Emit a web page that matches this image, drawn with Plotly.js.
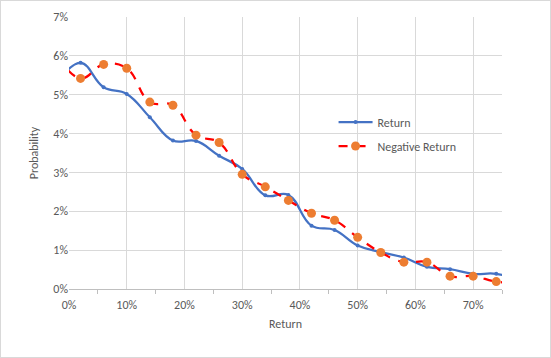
<!DOCTYPE html>
<html>
<head>
<meta charset="utf-8">
<script src="https://cdn.plot.ly/plotly-3.0.1.min.js"></script>
<style>
html,body{margin:0;padding:0;background:#fff;}
#chart{width:549px;height:356px;border:1px solid #d9d9d9;}
</style>
</head>
<body>
<div id="chart"></div>
<script>
// Return levels (x), first point at -2% lies outside the visible axis range
const returns = [-0.02, 0.02, 0.06, 0.10, 0.14, 0.18, 0.22, 0.26, 0.30, 0.34, 0.38, 0.42, 0.46, 0.50, 0.54, 0.58, 0.62, 0.66, 0.70, 0.74, 0.78];
const returnProb = [0.0530, 0.0582, 0.0519, 0.0502, 0.0442, 0.0382, 0.0381, 0.0343, 0.0309, 0.0241, 0.0242, 0.0163, 0.0152, 0.0112, 0.0095, 0.0081, 0.0057, 0.0051, 0.0039, 0.0039, 0.0022];
const negReturnProb = [0.0600, 0.0542, 0.0578, 0.0568, 0.0481, 0.0473, 0.0396, 0.0377, 0.0295, 0.0263, 0.0228, 0.0195, 0.0177, 0.0133, 0.0094, 0.0069, 0.0069, 0.0033, 0.0033, 0.0019, 0.0016];
const seriesNames = ["Return", "Negative Return"];

const FONT = "Carlito, Lato, 'Liberation Sans', sans-serif";
const GREY = "#595959";

const traces = [
  {
    x: returns, y: returnProb, name: seriesNames[0], type: "scatter", mode: "lines+markers",
    line: {color: "#4472C4", width: 2.25, shape: "spline", smoothing: 1.2},
    marker: {color: "#4472C4", size: 4, symbol: "circle"},
    legend: "legend", cliponaxis: true
  },
  {
    x: returns, y: negReturnProb, name: seriesNames[1], type: "scatter", mode: "lines+markers",
    line: {color: "#FF0000", width: 2.25, dash: "dash", shape: "spline", smoothing: 1.2},
    marker: {color: "#ED7D31", size: 9, symbol: "circle"},
    legend: "legend2", cliponaxis: true
  }
];

const legendBase = {
  xanchor: "left", yanchor: "middle", bgcolor: "rgba(0,0,0,0)",
  font: {family: FONT, size: 12, color: GREY}, itemwidth: 34
};

const layout = {
  width: 549, height: 356,
  margin: {l: 68, r: 48, t: 16, b: 68},
  paper_bgcolor: "#fff", plot_bgcolor: "#fff",
  font: {family: FONT, size: 12, color: GREY},
  showlegend: true,
  legend: Object.assign({}, legendBase, {x: 0.611, y: (289 - 122) / 272}),
  legend2: Object.assign({}, legendBase, {x: 0.611, y: (289 - 146) / 272}),
  xaxis: {
    range: [0, 0.75], dtick: 0.1, tick0: 0, tickformat: ".0%",
    showgrid: true, gridcolor: "#d9d9d9", gridwidth: 1,
    showline: true, linecolor: "#bfbfbf", linewidth: 1,
    ticks: "", zeroline: false, ticklabelstandoff: 5,
    minor: {dtick: 0.05, ticks: "outside", ticklen: 4, tickcolor: "#bfbfbf", showgrid: false},
    tickfont: {family: FONT, size: 12, color: GREY},
    title: {text: "Return", font: {family: FONT, size: 12, color: GREY}, standoff: 8}
  },
  yaxis: {
    range: [0, 0.07], dtick: 0.01, tick0: 0, tickformat: ".0%",
    showgrid: true, gridcolor: "#d9d9d9", gridwidth: 1,
    showline: false, zeroline: false, ticks: "",
    tickfont: {family: FONT, size: 12, color: GREY},
    title: {text: "Probability", font: {family: FONT, size: 12, color: GREY}, standoff: 12}
  }
};

Plotly.newPlot("chart", traces, layout, {displayModeBar: false, staticPlot: true});
</script>
</body>
</html>
